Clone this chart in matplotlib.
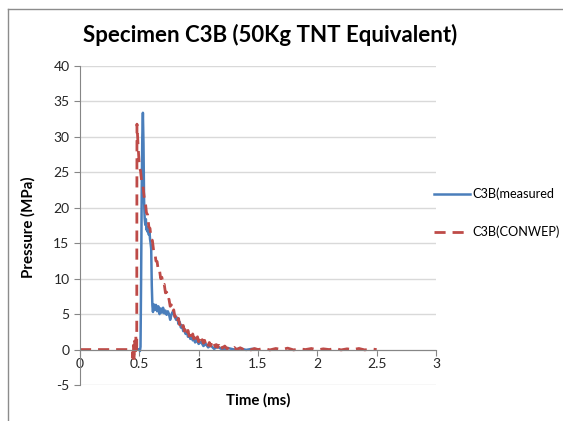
import matplotlib
matplotlib.use("Agg")
import matplotlib.pyplot as plt
from matplotlib.lines import Line2D

plt.rcParams['font.family'] = ['Lato', 'DejaVu Sans']
plt.rcParams['axes.unicode_minus'] = False

# measured trace (ms, MPa)
t_meas = [0.46, 0.48, 0.50, 0.505, 0.51, 0.515, 0.52, 0.525, 0.53, 0.535,
          0.54, 0.545, 0.55, 0.555, 0.56, 0.565, 0.57, 0.575, 0.58, 0.585,
          0.59, 0.595, 0.60, 0.605, 0.61, 0.615, 0.62, 0.63, 0.64, 0.65,
          0.66, 0.67, 0.68, 0.69, 0.70, 0.71, 0.72, 0.73, 0.74, 0.75,
          0.76, 0.77, 0.78, 0.79, 0.80, 0.81, 0.82, 0.83, 0.84, 0.85,
          0.86, 0.87, 0.88, 0.89, 0.90, 0.91, 0.92, 0.93, 0.94, 0.95,
          0.96, 0.97, 0.98, 1.00, 1.02, 1.04, 1.06, 1.08, 1.10, 1.13,
          1.16, 1.20, 1.25, 1.30, 1.35, 1.40, 1.45, 1.50]
p_meas = [0.0, 0.1, 0.0, -0.2, 0.4, 10.0, 22.0, 30.0, 33.4, 29.0,
          21.0, 18.5, 17.6, 18.4, 16.9, 17.3, 16.6, 17.0, 16.2, 16.8,
          15.6, 15.0, 14.2, 9.0, 6.2, 5.3, 6.4, 5.6, 6.3, 5.4,
          6.1, 5.0, 5.8, 5.2, 5.9, 5.1, 5.5, 4.9, 5.4, 5.0,
          4.2, 4.9, 5.3, 5.0, 4.6, 4.2, 4.5, 3.6, 3.9, 3.1,
          3.4, 2.6, 2.9, 2.2, 2.5, 1.8, 2.1, 1.5, 1.9, 1.3,
          1.6, 1.0, 1.4, 0.8, 1.1, 0.5, 0.8, 0.3, 0.6, 0.1,
          0.4, 0.0, 0.2, 0.0, 0.15, -0.05, 0.1, 0.0]

# CONWEP prediction (ms, MPa)
t_conwep = [0.0, 0.10, 0.20, 0.30, 0.40, 0.44, 0.445, 0.45, 0.455, 0.46,
            0.465, 0.47, 0.475, 0.478,
            0.48, 0.49, 0.50, 0.51, 0.52, 0.53, 0.54, 0.55, 0.56, 0.57,
            0.58, 0.59, 0.60, 0.61, 0.62, 0.63, 0.64, 0.65, 0.66, 0.67,
            0.68, 0.69, 0.70, 0.71, 0.72, 0.73, 0.74, 0.75, 0.76, 0.77,
            0.78, 0.79, 0.80, 0.81, 0.82, 0.83, 0.84, 0.85, 0.86, 0.87,
            0.88, 0.89, 0.90, 0.91, 0.92, 0.93, 0.94, 0.95, 0.96, 0.97,
            0.98, 0.99, 1.00, 1.01, 1.02, 1.03, 1.04, 1.05, 1.06, 1.07,
            1.08, 1.09, 1.10, 1.11, 1.12, 1.13, 1.14, 1.15, 1.16, 1.17,
            1.18, 1.19, 1.20, 1.22, 1.24, 1.26, 1.28, 1.30, 1.32, 1.35,
            1.38, 1.41, 1.44, 1.47, 1.50, 1.55, 1.60, 1.65, 1.70, 1.75,
            1.80, 1.85, 1.90, 1.95, 2.00, 2.05, 2.10, 2.15, 2.20, 2.25,
            2.30, 2.35, 2.40, 2.45, 2.50]
p_conwep = [0.0, 0.0, 0.0, 0.0, 0.0, 0.0, -1.2, 0.6, -1.6, 1.2,
            -0.8, 2.0, -0.4, 0.5,
            31.8, 28.6, 25.8, 25.2, 23.7, 23.2, 21.6, 20.9, 19.3, 19.0,
            17.3, 17.1, 15.5, 15.4, 14.0, 13.8, 12.5, 12.4, 11.1, 11.2,
            10.0, 10.2, 9.1, 9.2, 8.0, 8.1, 7.0, 7.1, 6.1, 6.3,
            5.3, 5.6, 4.6, 4.9, 4.0, 4.4, 3.5, 3.8, 3.0, 3.4,
            2.6, 3.0, 2.2, 2.7, 1.9, 2.4, 1.7, 2.2, 1.5, 2.0,
            1.3, 1.8, 1.1, 1.6, 1.0, 1.4, 0.9, 1.3, 0.7, 1.1,
            0.6, 1.0, 0.5, 0.9, 0.4, 0.8, 0.4, 0.7, 0.3, 0.6,
            0.2, 0.6, 0.2, 0.5, 0.1, 0.4, 0.1, 0.3, 0.0, 0.25,
            0.0, 0.2, -0.05, 0.15, 0.0, 0.15, -0.05, 0.15, 0.0, 0.2,
            -0.05, 0.1, 0.0, 0.15, -0.05, 0.1, 0.0, 0.15, -0.05, 0.1,
            0.0, 0.15, -0.05, 0.1, 0.0]

blue = '#4a7ebb'
red = '#be4b48'
grid_c = '#d9d9d9'
axis_c = '#868686'

fig = plt.figure(figsize=(5.63, 4.21), dpi=100)
ax = fig.add_axes([80/563, 1-385/421, (436-80)/563, (385-66)/421])

ax.plot(t_meas, p_meas, color=blue, lw=1.8, label='C3B(measured')
ax.plot(t_conwep, p_conwep, color=red, lw=2.0, dashes=(4, 2.5),
        label='C3B(CONWEP)')

ax.set_xlim(0, 3)
ax.set_ylim(-5, 40)
ax.set_xticks([0, 0.5, 1, 1.5, 2, 2.5, 3])
ax.set_xticklabels(['0', '0.5', '1', '1.5', '2', '2.5', '3'])
ax.set_yticks(range(-5, 41, 5))
ax.yaxis.grid(True, color=grid_c, lw=1.0)
ax.set_axisbelow(True)
for s in ['top', 'right']:
    ax.spines[s].set_visible(False)
ax.spines['bottom'].set_position(('data', 0))
ax.spines['bottom'].set_color(axis_c)
ax.spines['left'].set_color(axis_c)
ax.tick_params(axis='both', colors=axis_c, labelcolor='#262626',
               labelsize=10, length=4)
ax.tick_params(axis='x', pad=2)

fig.text(258/563, 1-400/421, 'Time (ms)', ha='center', va='center',
         fontsize=10.8, fontweight='bold')
fig.text(28/563, 1-227/421, 'Pressure (MPa)', ha='center', va='center',
         rotation=90, fontsize=10.8, fontweight='bold')
fig.text(270/563, 1-35/421, 'Specimen C3B (50Kg TNT Equivalent)',
         ha='center', va='center', fontsize=16, fontweight='bold')

fig.legend(loc='center left', bbox_to_anchor=(428/563, 1-213/421),
           frameon=False, fontsize=9.2, handlelength=2.8,
           handletextpad=0.2, labelspacing=2.0, borderpad=0)

# outer chart frame
fig.add_artist(Line2D([8/563, 8/563], [0, 1-9/421], transform=fig.transFigure,
                      color='#8c8c8c', lw=1))
fig.add_artist(Line2D([8/563, 1], [1-9/421, 1-9/421], transform=fig.transFigure,
                      color='#8c8c8c', lw=1))

fig.savefig('out.png', dpi=100)
